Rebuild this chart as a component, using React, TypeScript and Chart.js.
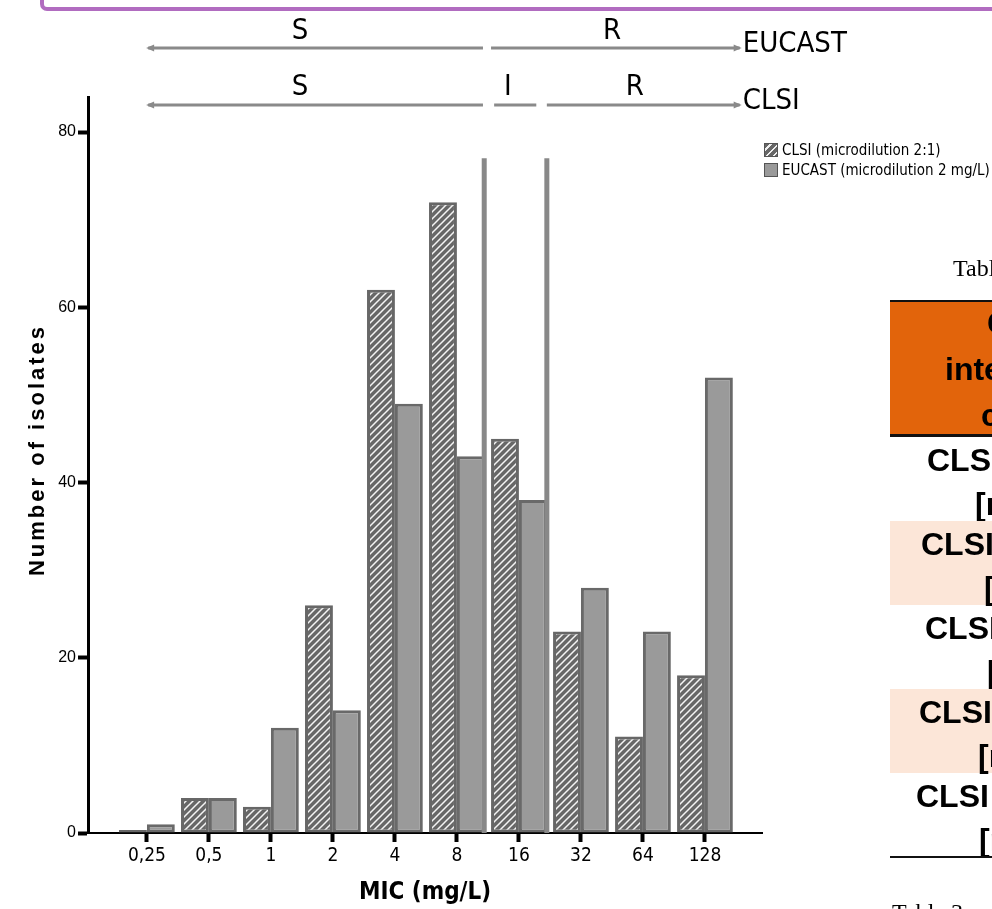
import React, { useEffect, useRef } from 'react';
import { Chart, registerables } from 'chart.js';

Chart.register(...registerables);

// ---------- data ----------
const micLabels = ['0,25', '0,5', '1', '2', '4', '8', '16', '32', '64', '128'];
const clsiCounts = [0, 4, 3, 26, 62, 72, 45, 23, 11, 18];
const eucastCounts = [1, 4, 12, 14, 49, 43, 38, 28, 23, 52];
const yTicks = [0, 20, 40, 60, 80];
const seriesNames = ['CLSI (microdilution 2:1)', 'EUCAST (microdilution 2 mg/L)'];
const axisTitles = { x: 'MIC (mg/L)', y: 'Number of isolates' };

// breakpoint separators (in category units) and their top (in isolates)
const breakpointLines = [5.44, 6.45];
const breakpointTop = 77;

// interpretation bands above the plot (category units)
const eucastBands = [
  { code: 'S', from: 0.02, to: 5.42, at: 2.47, head: 'start' },
  { code: 'R', from: 5.55, to: 9.56, at: 7.5, head: 'end' },
];
const clsiBands = [
  { code: 'S', from: 0.02, to: 5.42, at: 2.47, head: 'start' },
  { code: 'I', from: 5.6, to: 6.28, at: 5.82, head: 'none' },
  { code: 'R', from: 6.45, to: 9.56, at: 7.87, head: 'end' },
];
const bandRows = [
  { name: 'EUCAST', bands: eucastBands, labelY: 31, lineY: 48, nameY: 44 },
  { name: 'CLSI', bands: clsiBands, labelY: 87, lineY: 105, nameY: 101 },
];

// partial table on the right
const tableTitle = 'Table 2.';
const tableNote = 'Table 3.';
const headerLines = [
  { text: 'C', x: 987, y: 323 },
  { text: 'inte', x: 945, y: 369 },
  { text: 'c', x: 981, y: 415 },
];
const tableRows = [
  { first: 'CLSI', firstX: 927, second: '[mg/L]', secondX: 975, shaded: false },
  { first: 'CLSI', firstX: 921, second: '[mg/L]', secondX: 984, shaded: true },
  { first: 'CLSI', firstX: 925, second: '[mg/L]', secondX: 987, shaded: false },
  { first: 'CLSI', firstX: 919, second: '[mg/L]', secondX: 978, shaded: true },
  { first: 'CLSI', firstX: 916, second: '[mg/L]', secondX: 979, shaded: false },
];

const NARROW = '"Liberation Sans Narrow", "DejaVu Sans Condensed", "Arial Narrow", sans-serif';
const SANS = '"Liberation Sans", Arial, Helvetica, sans-serif';
const SERIF = '"Liberation Serif", "Times New Roman", serif';

function makeHatch(ctx: CanvasRenderingContext2D) {
  const s = 7;
  const c = document.createElement('canvas');
  c.width = s;
  c.height = s;
  const g = c.getContext('2d')!;
  g.fillStyle = '#676767';
  g.fillRect(0, 0, s, s);
  g.strokeStyle = '#f4f4f4';
  g.lineWidth = 1.5;
  g.beginPath();
  g.moveTo(0, s); g.lineTo(s, 0);
  g.moveTo(-s / 2, s / 2); g.lineTo(s / 2, -s / 2);
  g.moveTo(s / 2, s * 1.5); g.lineTo(s * 1.5, s / 2);
  g.stroke();
  return ctx.createPattern(c, 'repeat')!;
}

const overlayPlugin = {
  id: 'overlay',
  afterDatasetsDraw(chart: any) {
    const { ctx, scales } = chart;
    const x = scales.x, y = scales.y;
    ctx.save();
    ctx.strokeStyle = '#888888';
    ctx.lineWidth = 5;
    breakpointLines.forEach((v) => {
      const px = x.getPixelForValue(v);
      ctx.beginPath();
      ctx.moveTo(px, y.getPixelForValue(breakpointTop));
      ctx.lineTo(px, y.getPixelForValue(0));
      ctx.stroke();
    });
    ctx.restore();
  },
  afterDraw(chart: any) {
    const { ctx, scales } = chart;
    const x = scales.x;
    ctx.save();
    bandRows.forEach((row) => {
      row.bands.forEach((b) => {
        const x1 = x.getPixelForValue(b.from);
        const x2 = x.getPixelForValue(b.to);
        ctx.strokeStyle = '#8a8a8a';
        ctx.fillStyle = '#8a8a8a';
        ctx.lineWidth = 3;
        ctx.beginPath();
        ctx.moveTo(x1, row.lineY);
        ctx.lineTo(x2, row.lineY);
        ctx.stroke();
        if (b.head === 'start') {
          ctx.beginPath();
          ctx.moveTo(x1 - 2, row.lineY);
          ctx.lineTo(x1 + 6, row.lineY - 3.5);
          ctx.lineTo(x1 + 6, row.lineY + 3.5);
          ctx.closePath();
          ctx.fill();
        } else if (b.head === 'end') {
          ctx.beginPath();
          ctx.moveTo(x2 + 2, row.lineY);
          ctx.lineTo(x2 - 6, row.lineY - 3.5);
          ctx.lineTo(x2 - 6, row.lineY + 3.5);
          ctx.closePath();
          ctx.fill();
        }
        ctx.fillStyle = '#000';
        ctx.font = `29px ${NARROW}`;
        ctx.textAlign = 'center';
        ctx.textBaseline = 'middle';
        ctx.fillText(b.code, x.getPixelForValue(b.at), row.labelY);
      });
      const last = row.bands[row.bands.length - 1];
      ctx.fillStyle = '#000';
      ctx.font = `29px ${NARROW}`;
      ctx.textAlign = 'left';
      ctx.textBaseline = 'middle';
      ctx.fillText(row.name, x.getPixelForValue(last.to) + 3, row.nameY);
    });

    // y axis title
    ctx.translate(38, 450);
    ctx.rotate(-Math.PI / 2);
    ctx.fillStyle = '#000';
    ctx.font = `bold 22px ${SANS}`;
    (ctx as any).letterSpacing = '3px';
    ctx.textAlign = 'center';
    ctx.textBaseline = 'middle';
    ctx.fillText(axisTitles.y, 0, 0);
    ctx.restore();
  },
};

export default function App() {
  const canvasRef = useRef<HTMLCanvasElement | null>(null);

  useEffect(() => {
    const canvas = canvasRef.current!;
    const ctx = canvas.getContext('2d')!;
    const hatch = makeHatch(ctx);
    const chart = new Chart(ctx, {
      type: 'bar',
      data: {
        datasets: [
          {
            label: seriesNames[0],
            data: clsiCounts.map((v, i) => ({ x: i, y: v })),
            backgroundColor: hatch,
            borderColor: '#676767',
            borderWidth: 3,
            borderSkipped: false,
            minBarLength: 3,
          },
          {
            label: seriesNames[1],
            data: eucastCounts.map((v, i) => ({ x: i, y: v })),
            backgroundColor: '#9a9a9a',
            borderColor: '#696969',
            borderWidth: 3,
            borderSkipped: false,
          },
        ],
      } as any,
      options: {
        animation: false,
        responsive: false,
        devicePixelRatio: 1,
        layout: { padding: { top: 97, right: 230, left: 0, bottom: 0 } },
        datasets: { bar: { categoryPercentage: 0.9, barPercentage: 1.0 } },
        plugins: { legend: { display: false }, tooltip: { enabled: false } },
        scales: {
          x: {
            type: 'linear',
            offset: false,
            min: -0.95,
            max: 9.92,
            afterBuildTicks: (s: any) => {
              s.ticks = micLabels.map((_, i) => ({ value: i }));
            },
            afterFit: (s: any) => {
              s.height = 76;
            },
            ticks: {
              callback: (v: any) => micLabels[v] ?? '',
              font: { family: NARROW, size: 19 },
              color: '#000',
              padding: 3,
              maxRotation: 0,
              autoSkip: false,
            },
            grid: {
              offset: false,
              drawOnChartArea: false,
              drawTicks: true,
              tickLength: 9,
              tickWidth: 4,
              tickColor: '#000',
            },
            border: { display: true, color: '#000', width: 2 },
            title: {
              display: true,
              text: axisTitles.x,
              font: { family: NARROW, size: 24, weight: 'bold' },
              color: '#000',
              padding: { top: 0, bottom: 2 },
            },
          },
          y: {
            min: 0,
            max: 84,
            afterBuildTicks: (s: any) => {
              s.ticks = yTicks.map((v) => ({ value: v }));
            },
            afterFit: (s: any) => {
              s.width = 88;
            },
            ticks: { font: { family: SANS, size: 16 }, color: '#000', padding: 2 },
            grid: { drawOnChartArea: false, drawTicks: true, tickLength: 10, tickWidth: 4, tickColor: '#000' },
            border: { display: true, color: '#000', width: 3 },
          },
        },
      } as any,
      plugins: [overlayPlugin],
    });
    return () => chart.destroy();
  }, []);

  const hatchCss =
    'repeating-linear-gradient(135deg, #686868 0px, #686868 3.5px, #f0f0f0 3.5px, #f0f0f0 5px)';

  return (
    <div
      style={{
        position: 'absolute',
        left: 0,
        top: 0,
        width: 992,
        height: 909,
        overflow: 'hidden',
        background: '#fff',
      }}
    >
      {/* purple frame edge */}
      <div
        style={{
          position: 'absolute',
          left: 40,
          top: -30,
          width: 1000,
          height: 33,
          border: '4px solid #b16cc0',
          borderRadius: 7,
        }}
      />
      <canvas ref={canvasRef} width={992} height={909} style={{ position: 'absolute', left: 0, top: 0 }} />

      {/* legend */}
      {seriesNames.map((name, i) => (
        <div
          key={name}
          style={{
            position: 'absolute',
            left: 764,
            top: 141 + i * 20,
            height: 18,
            display: 'flex',
            alignItems: 'center',
            whiteSpace: 'nowrap',
            font: `15px ${NARROW}`,
            color: '#000',
          }}
        >
          <span
            style={{
              display: 'inline-block',
              width: 12,
              height: 12,
              marginRight: 4,
              border: '1px solid #555',
              background: i === 0 ? hatchCss : '#9a9a9a',
            }}
          />
          {name}
        </div>
      ))}

      {/* partial table on the right */}
      <div style={{ position: 'absolute', left: 890, top: 0, width: 102, height: 909, overflow: 'hidden' }}>
        <div
          style={{
            position: 'absolute',
            left: 953 - 890,
            top: 255,
            font: `24px ${SERIF}`,
            whiteSpace: 'nowrap',
            color: '#000',
          }}
        >
          {tableTitle}
        </div>
        <div
          style={{
            position: 'absolute',
            left: 0,
            top: 300,
            width: 200,
            height: 137,
            background: '#e2640b',
            borderTop: '2px solid #111',
            borderBottom: '3px solid #111',
            boxSizing: 'border-box',
          }}
        />
        {headerLines.map((h, i) => (
          <div
            key={i}
            style={{
              position: 'absolute',
              left: h.x - 890,
              top: h.y - 18,
              lineHeight: '36px',
              font: `bold 32px ${SANS}`,
              whiteSpace: 'nowrap',
              color: '#000',
            }}
          >
            {h.text}
          </div>
        ))}
        {tableRows.map((r, i) => {
          const top = 437 + i * 84;
          return (
            <React.Fragment key={i}>
              {r.shaded && (
                <div
                  style={{
                    position: 'absolute',
                    left: 0,
                    top,
                    width: 200,
                    height: 84,
                    background: '#fce6d8',
                  }}
                />
              )}
              <div
                style={{
                  position: 'absolute',
                  left: r.firstX - 890,
                  top: top + 23 - 18,
                  lineHeight: '36px',
                  font: `bold 32px ${SANS}`,
                  whiteSpace: 'nowrap',
                  color: '#000',
                }}
              >
                {r.first}
              </div>
              <div
                style={{
                  position: 'absolute',
                  left: r.secondX - 890,
                  top: top + 67 - 18,
                  lineHeight: '36px',
                  font: `bold 32px ${SANS}`,
                  whiteSpace: 'nowrap',
                  color: '#000',
                }}
              >
                {r.second}
              </div>
            </React.Fragment>
          );
        })}
        <div style={{ position: 'absolute', left: 0, top: 856, width: 200, height: 2, background: '#111' }} />
        <div
          style={{
            position: 'absolute',
            left: 892 - 890,
            top: 899,
            font: `24px ${SERIF}`,
            whiteSpace: 'nowrap',
            color: '#000',
          }}
        >
          {tableNote}
        </div>
      </div>
    </div>
  );
}
